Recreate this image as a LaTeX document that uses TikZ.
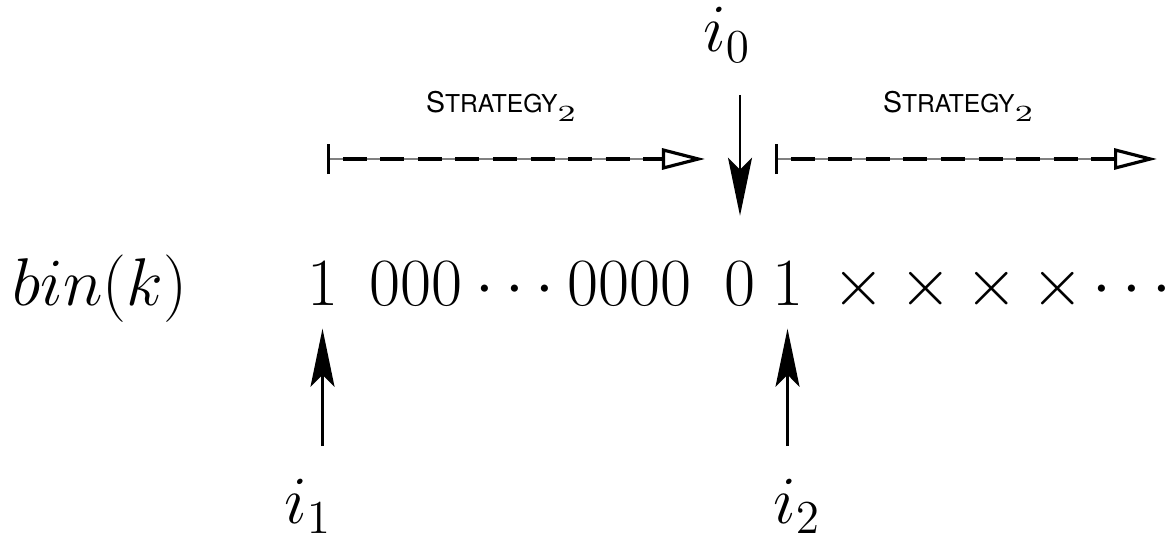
\RequirePackage{fix-cm}
\documentclass[tikz,border=0pt]{standalone}
\usepackage[no-math]{fontspec}
\usepackage{graphicx}
\newfontfamily\stratfont{TeX Gyre Heros}
\usetikzlibrary{arrows.meta}

\newcommand{\stratlabel}{{\stratfont\fontsize{8.1}{9}\selectfont S{\fontsize{7.0}{8}\selectfont TRATEGY}\raisebox{-0.55ex}{\fontsize{6.6}{7}\selectfont\rmfamily\scalebox{1.4}[1]{2}}}}

\begin{document}
\begin{tikzpicture}[
  x=0.01cm, y=-0.01cm,
  bit/.style={inner sep=0pt, anchor=base, font=\fontsize{19.2}{22}\selectfont},
  strat/.style={inner sep=0pt, anchor=base},
  pointer/.style={-{Stealth[length=0.58cm, width=0.24cm, inset=0.12cm]}, line width=0.6pt},
  span/.style={{Bar[width=0.3cm, line width=0.9pt]}-{Triangle[open, length=0.43cm, width=0.21cm, line width=0.9pt]},
    line width=1pt, dash pattern=on 0.24cm off 0.135cm, dash phase=0.24cm},
  guide/.style={gray, line width=0.3pt, shorten >=0.43cm}]

  \useasboundingbox (0,0) rectangle (1171,540);

  % the binary word
  \node[bit, anchor=base west] (bin) at (12,305) {$bin(k)$};
  \node[bit] (b1) at (322.5,305) {$1$};
  \node[bit] (b2) at (416,305) {$000$};
  \node[bit] (b3) at (515,305) {$\cdots$};
  \node[bit] (b4) at (629.5,305) {$0000$};
  \node[bit] (b5) at (740,305) {$0$};
  \node[bit] (b6) at (787.5,305) {$1$};
  \foreach \xx [count=\i] in {859,925.5,992,1057.5}
    \node[bit] (x\i) at (\xx,305) {$\times$};
  \node[bit] (b7) at (1132,305) {$\cdots$};

  % indices
  \node[bit] (i0) at (727,52) {$i_0$};
  \node[bit] (i1) at (308,523) {$i_1$};
  \node[bit] (i2) at (797,523) {$i_2$};

  \draw[pointer, shorten <=0.32cm, shorten >=0.45cm] (b5.north |- i0.south) -- (b5.north);
  \draw[pointer, shorten <=0.32cm, shorten >=0.23cm] (b1.south |- i1.north) -- (b1.south);
  \draw[pointer, shorten <=0.32cm, shorten >=0.23cm] (b6.south |- i2.north) -- (b6.south);

  % strategy spans
  \coordinate (s1) at (327,159);
  \coordinate (e1) at (705,159);
  \coordinate (s2) at (775,159);
  \coordinate (e2) at (1157,159);
  \node[strat] (lab1) at (501,113) {\stratlabel};
  \node[strat] (lab2) at (958,113) {\stratlabel};

  \draw[guide] (s1) -- (e1);
  \draw[span] (s1) -- (e1);
  \draw[guide] (s2) -- (e2);
  \draw[span] (s2) -- (e2);
\end{tikzpicture}
\end{document}
